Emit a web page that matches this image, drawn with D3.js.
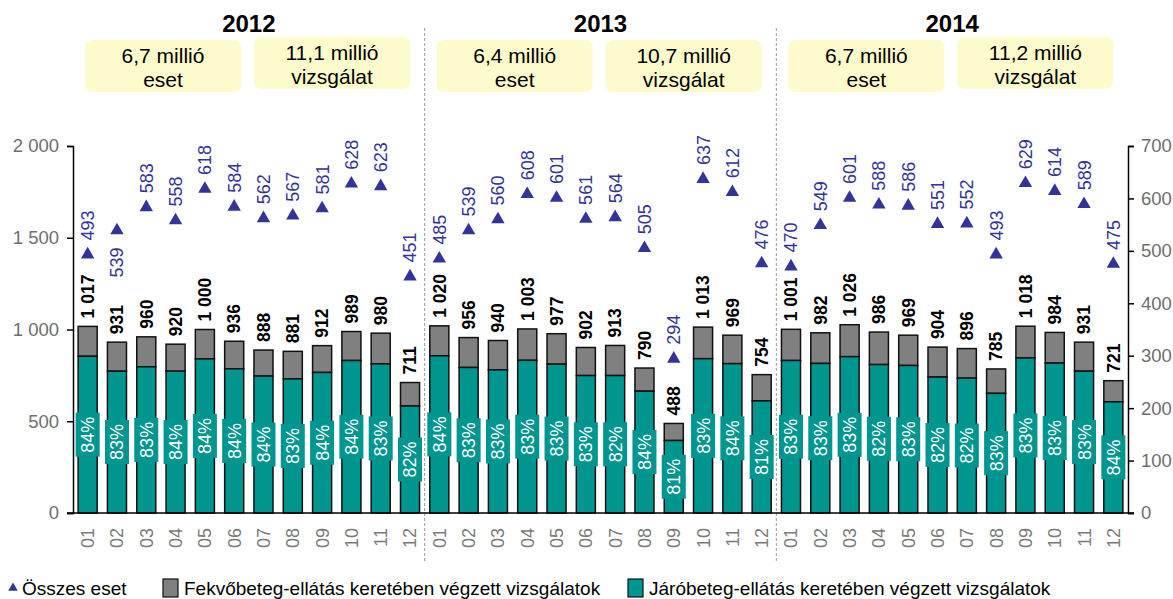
<!DOCTYPE html>
<html>
<head>
<meta charset="utf-8">
<script src="https://cdn.jsdelivr.net/npm/d3@7"></script>
<style>
  body { margin: 0; background: #fff; }
  svg { font-family: "Liberation Sans", Arial, sans-serif; display: block; }
</style>
</head>
<body>
<div id="wrapper"></div>
<script>
const years = ["2012", "2013", "2014"]
const months = ["01","02","03","04","05","06","07","08","09","10","11","12"]

// összes vizsgálat (ezer)
const totals2012 = [1017, 931, 960, 920, 1000, 936, 888, 881, 912, 989, 980, 711]
const totals2013 = [1020, 956, 940, 1003, 977, 902, 913, 790, 488, 1013, 969, 754]
const totals2014 = [1001, 982, 1026, 986, 969, 904, 896, 785, 1018, 984, 931, 721]

// járóbeteg-ellátásban végzett vizsgálatok (ezer)
const jaro2012 = [854, 773, 797, 773, 840, 786, 746, 731, 766, 831, 813, 583]
const jaro2013 = [857, 793, 780, 832, 811, 749, 749, 664, 395, 841, 814, 611]
const jaro2014 = [831, 815, 852, 809, 804, 741, 735, 652, 845, 817, 773, 606]

// járóbeteg arány
const pct2012 = [84, 83, 83, 84, 84, 84, 84, 83, 84, 84, 83, 82]
const pct2013 = [84, 83, 83, 83, 83, 83, 82, 84, 81, 83, 84, 81]
const pct2014 = [83, 83, 83, 82, 83, 82, 82, 83, 83, 83, 83, 84]

// összes eset (ezer)
const cases2012 = [493, 539, 583, 558, 618, 584, 562, 567, 581, 628, 623, 451]
const cases2013 = [485, 539, 560, 608, 601, 561, 564, 505, 294, 637, 612, 476]
const cases2014 = [470, 549, 601, 588, 586, 551, 552, 493, 629, 614, 589, 475]

const boxCases = ["6,7 millió", "6,4 millió", "6,7 millió"]
const boxTests = ["11,1 millió", "10,7 millió", "11,2 millió"]

const leftTicks = [0, 500, 1000, 1500, 2000]
const rightTicks = [0, 100, 200, 300, 400, 500, 600, 700]

const legendLabels = ["Összes eset", "Fekvőbeteg-ellátás keretében végzett vizsgálatok", "Járóbeteg-ellátás keretében végzett vizsgálatok"]

const totalsAll = [totals2012, totals2013, totals2014]
const jaroAll = [jaro2012, jaro2013, jaro2014]
const pctAll = [pct2012, pct2013, pct2014]
const casesAll = [cases2012, cases2013, cases2014]

const data = []
years.forEach((y, yi) => {
  months.forEach((m, mi) => {
    data.push({
      key: y + "-" + m,
      year: y,
      month: m,
      total: totalsAll[yi][mi],
      jaro: jaroAll[yi][mi],
      pct: pctAll[yi][mi],
      cases: casesAll[yi][mi],
    })
  })
})

const fmt = d => d3.format(",")(d).replace(/,/g, " ")

const teal = "#009690"
const grey = "#808080"
const blue = "#333399"

let dimensions = {
  width: 1173,
  height: 599,
  margin: { top: 146, right: 45, bottom: 86, left: 73 },
}
dimensions.boundedWidth = dimensions.width - dimensions.margin.left - dimensions.margin.right
dimensions.boundedHeight = dimensions.height - dimensions.margin.top - dimensions.margin.bottom

const xScale = d3.scaleBand()
    .domain(data.map(d => d.key))
    .range([0, dimensions.boundedWidth])
    .paddingInner(0.35)
    .paddingOuter(0.175)

const yScale = d3.scaleLinear()
    .domain([0, 2000])
    .range([dimensions.boundedHeight, 0])

const yRight = d3.scaleLinear()
    .domain([0, 700])
    .range([dimensions.boundedHeight, 0])

const wrapper = d3.select("#wrapper")
  .append("svg")
    .attr("width", dimensions.width)
    .attr("height", dimensions.height)

const bounds = wrapper.append("g")
    .attr("transform", `translate(${dimensions.margin.left}, ${dimensions.margin.top})`)

const step = xScale.step()
const bw = xScale.bandwidth()
const top0 = -dimensions.margin.top

// year separators
;[1, 2].forEach(i => {
  const x = i * 12 * step
  bounds.append("line")
      .attr("x1", x).attr("x2", x)
      .attr("y1", top0 + 28)
      .attr("y2", dimensions.boundedHeight + 50)
      .attr("stroke", "#999")
      .attr("stroke-width", 1)
      .attr("stroke-dasharray", "3,2")
})

// year titles and boxes
years.forEach((y, i) => {
  const x0 = i * 12 * step
  const sectionW = 12 * step
  bounds.append("text")
      .attr("x", x0 + sectionW / 2)
      .attr("y", top0 + 32)
      .attr("text-anchor", "middle")
      .attr("font-size", 24)
      .attr("font-weight", "bold")
      .text(y)

  const boxes = [
    { x: x0 + 12, w: 156, top: 40, lines: [boxCases[i], "eset"] },
    { x: x0 + 181, w: 156, top: i === 1 ? 40 : 37, lines: [boxTests[i], "vizsgálat"] },
  ]
  boxes.forEach(b => {
    bounds.append("rect")
        .attr("x", b.x)
        .attr("y", top0 + b.top)
        .attr("width", b.w)
        .attr("height", 52)
        .attr("rx", 7)
        .attr("fill", "#FDFACB")
    b.lines.forEach((t, li) => {
      bounds.append("text")
          .attr("x", b.x + b.w / 2)
          .attr("y", top0 + b.top + 23 + li * 24)
          .attr("text-anchor", "middle")
          .attr("font-size", 21)
          .attr("fill", "#000")
          .text(t)
    })
  })
})

// bars
const barGroups = bounds.append("g")
  .selectAll("g")
  .data(data)
  .join("g")

barGroups.append("rect")
    .attr("x", d => xScale(d.key))
    .attr("y", d => yScale(d.total))
    .attr("width", bw)
    .attr("height", d => yScale(d.jaro) - yScale(d.total))
    .attr("fill", grey)
    .attr("stroke", "#111")
    .attr("stroke-width", 1.5)

barGroups.append("rect")
    .attr("x", d => xScale(d.key))
    .attr("y", d => yScale(d.jaro))
    .attr("width", bw)
    .attr("height", d => yScale(0) - yScale(d.jaro))
    .attr("fill", teal)
    .attr("stroke", "#111")
    .attr("stroke-width", 1.5)

// percent labels
const pctG = barGroups.append("g")
    .attr("transform", d => `translate(${xScale(d.key) + bw / 2}, ${(yScale(d.jaro) + yScale(0)) / 2})`)

pctG.append("rect")
    .attr("x", -12)
    .attr("y", -22)
    .attr("width", 24)
    .attr("height", 44)
    .attr("fill", teal)

pctG.append("text")
    .attr("transform", "rotate(-90)")
    .attr("text-anchor", "middle")
    .attr("dy", "0.36em")
    .attr("font-size", 18)
    .attr("fill", "#fff")
    .text(d => d.pct + "%")

// total labels
barGroups.append("text")
    .attr("transform", d => `translate(${xScale(d.key) + bw / 2}, ${yScale(d.total) - 8}) rotate(-90)`)
    .attr("dy", "0.36em")
    .attr("font-size", 17.5)
    .attr("font-weight", "bold")
    .attr("fill", "#000")
    .text(d => fmt(d.total))

// total cases: triangles
const triangle = d3.symbol().type(d3.symbolTriangle).size(78)

barGroups.append("path")
    .attr("d", triangle)
    .attr("transform", d => `translate(${xScale(d.key) + bw / 2}, ${yRight(d.cases)})`)
    .attr("fill", blue)

const belowLabels = ["2012-02"]

barGroups.append("text")
    .attr("transform", d => {
      const cx = xScale(d.key) + bw / 2
      const cy = yRight(d.cases)
      return belowLabels.includes(d.key)
        ? `translate(${cx}, ${cy + 17}) rotate(-90)`
        : `translate(${cx}, ${cy - 14}) rotate(-90)`
    })
    .attr("text-anchor", d => belowLabels.includes(d.key) ? "end" : "start")
    .attr("dy", "0.36em")
    .attr("font-size", 18)
    .attr("fill", blue)
    .text(d => d.cases)

// axes
const yAxisGenerator = d3.axisLeft(yScale)
    .tickValues(leftTicks)
    .tickSize(6)
    .tickPadding(8)
    .tickFormat(fmt)

const yAxis = bounds.append("g").call(yAxisGenerator)

const yRightGenerator = d3.axisRight(yRight)
    .tickValues(rightTicks)
    .tickSize(6)
    .tickPadding(7)

const yAxisRight = bounds.append("g")
    .attr("transform", `translate(${dimensions.boundedWidth}, 0)`)
    .call(yRightGenerator)

;[yAxis, yAxisRight].forEach(ax => {
  ax.select(".domain").attr("stroke", "#000").attr("stroke-width", 1.5)
  ax.selectAll(".tick line").attr("stroke", "#000").attr("stroke-width", 1.5)
  ax.selectAll(".tick text")
      .attr("font-size", 18.5)
      .attr("fill", "#6e6e6e")
      .attr("font-family", "Liberation Sans, Arial, sans-serif")
})

const xAxisGenerator = d3.axisBottom(xScale)
    .tickSize(0)
    .tickFormat(k => k.slice(5))

const xAxis = bounds.append("g")
    .attr("transform", `translate(0, ${dimensions.boundedHeight})`)
    .call(xAxisGenerator)

xAxis.select(".domain").remove()
xAxis.selectAll(".tick text")
    .attr("transform", "rotate(-90)")
    .attr("text-anchor", "end")
    .attr("x", -15)
    .attr("y", 0)
    .attr("dy", "0.36em")
    .attr("font-size", 18)
    .attr("fill", "#7a7a7a")
    .attr("font-family", "Liberation Sans, Arial, sans-serif")

bounds.append("line")
    .attr("x1", -6).attr("x2", dimensions.boundedWidth + 6)
    .attr("y1", dimensions.boundedHeight).attr("y2", dimensions.boundedHeight)
    .attr("stroke", "#000")
    .attr("stroke-width", 1.5)

// legend
const legend = wrapper.append("g")
    .attr("transform", "translate(0, 588)")

legend.append("path")
    .attr("d", d3.symbol().type(d3.symbolTriangle).size(40))
    .attr("transform", "translate(13, 0)")
    .attr("fill", blue)
legend.append("text")
    .attr("x", 22).attr("dy", "0.36em")
    .attr("font-size", 19)
    .text(legendLabels[0])

const legendItems = [
  { x: 163, fill: grey, label: legendLabels[1] },
  { x: 628, fill: teal, label: legendLabels[2] },
]
legendItems.forEach(it => {
  legend.append("rect")
      .attr("x", it.x).attr("y", -9)
      .attr("width", 15).attr("height", 18)
      .attr("fill", it.fill)
      .attr("stroke", "#111")
      .attr("stroke-width", 1.2)
  legend.append("text")
      .attr("x", it.x + 21).attr("dy", "0.36em")
      .attr("font-size", 19)
      .text(it.label)
})
</script>
</body>
</html>
